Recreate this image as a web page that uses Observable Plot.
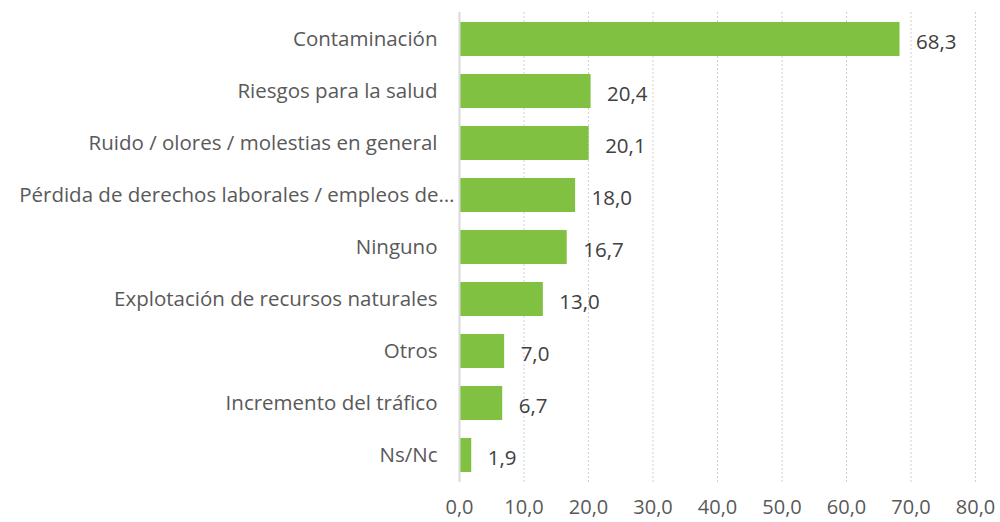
<!DOCTYPE html>
<html><head><meta charset="utf-8">
<script src="https://cdn.jsdelivr.net/npm/d3@7"></script>
<script src="https://cdn.jsdelivr.net/npm/@observablehq/plot@0.6"></script>
<style>
body{margin:0;background:#fff;}
#chart{width:1000px;height:522px;}
</style></head><body><div id="chart"></div>
<script>
const categories = ["Contaminación","Riesgos para la salud","Ruido / olores / molestias en general","Pérdida de derechos laborales / empleos de…","Ninguno","Explotación de recursos naturales","Otros","Incremento del tráfico","Ns/Nc"];
const values = [68.3,20.4,20.1,18.0,16.7,13.0,7.0,6.7,1.9];
const xTicks = [0,10,20,30,40,50,60,70,80];
const data = categories.map((c,i)=>({cat:c, v:values[i]}));
const fmt = d => d.toFixed(1).replace(".", ",");
const font = "'Open Sans', sans-serif";
const longLabel = categories[3];
const chart = Plot.plot({
  width:1000, height:522,
  marginLeft:459, marginRight:25, marginTop:12, marginBottom:40,
  style:{fontFamily:font, fontSize:"20px", color:"#595959", background:"#fff"},
  x:{domain:[0,80], ticks:xTicks, tickFormat:fmt},
  y:{domain:categories, paddingInner:0.35, paddingOuter:0.175},
  marks:[
    Plot.gridX(xTicks.filter(t=>t>0), {stroke:"#d0d0d0", strokeOpacity:1, strokeDasharray:"2,2"}),
    Plot.barX(data, {x:"v", y:"cat", fill:"#80C142"}),
    Plot.ruleX([0], {stroke:"#d9d9d9", strokeWidth:2}),
    Plot.text(data, {x:"v", y:"cat", text:d=>fmt(d.v), textAnchor:"start", dx:16, dy:3, fill:"#404040", fontSize:20.5}),
    Plot.axisY(categories.filter(c=>c!==longLabel), {tickSize:0, tickPadding:22, label:null, fontSize:20.5, fill:"#595959"}),
    Plot.axisY([longLabel], {tickSize:0, tickPadding:5, label:null, fontSize:20.5, fill:"#595959"}),
    Plot.axisX(xTicks, {tickSize:0, tickPadding:17, label:null, fontSize:20, fill:"#595959", tickFormat:fmt})
  ]
});
document.getElementById("chart").appendChild(chart);
</script></body></html>
